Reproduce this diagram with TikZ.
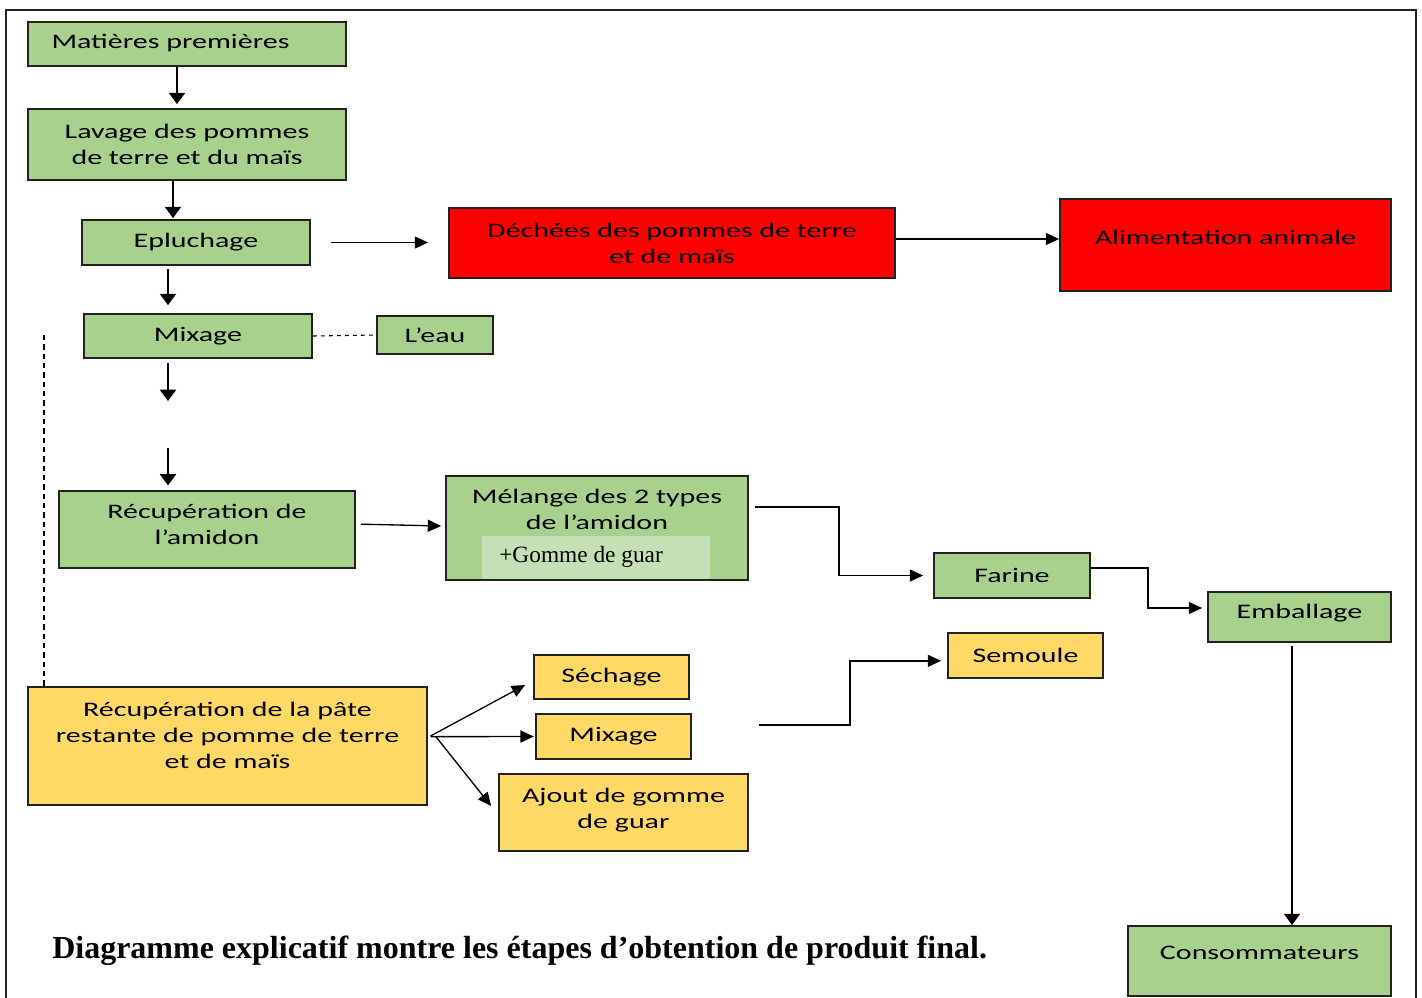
\documentclass[tikz,border=0pt]{standalone}
\usepackage{fontspec}
\setmainfont{Carlito}[FakeStretch=1.45]
\newfontfamily\serifcap{Liberation Serif}
\usetikzlibrary{arrows.meta,calc}
\definecolor{gfill}{HTML}{A9D18E}
\definecolor{yfill}{HTML}{FFD966}
\definecolor{rfill}{HTML}{FF0000}
\definecolor{lfill}{HTML}{C5E0B4}
\definecolor{bord}{HTML}{222222}
\tikzset{
  box/.style={draw=bord, line width=1.3pt, align=center, inner sep=2pt, font=\fontsize{15.5}{19.5}\selectfont},
  gbox/.style={box, fill=gfill},
  ybox/.style={box, fill=yfill},
  rbox/.style={box, fill=rfill},
  arr/.style={-{Triangle[length=10pt,width=9pt]}, line width=1pt, black},
  tarr/.style={-{Triangle[length=8.5pt,width=12pt]}, line width=1.5pt, black},
  dotline/.style={line width=0.9pt, dash pattern=on 4pt off 3pt},
}
\begin{document}
\begin{tikzpicture}[x=0.75pt,y=-0.75pt]
\useasboundingbox (0,0) rectangle (1422,997);
% frame
\draw[line width=1.5pt, bord] (6,1000) -- (6,10) -- (1416,10) -- (1416,1000);

% nodes
\node[gbox, minimum width=318*0.75pt, minimum height=44*0.75pt] (mat) at (187,44) {\raisebox{4pt}{Matières premières}\hspace{1.6em}};
\node[gbox, minimum width=318*0.75pt, minimum height=71*0.75pt] (lav) at (187,144.5) {Lavage des pommes\\de terre et du maïs};
\node[gbox, minimum width=228*0.75pt, minimum height=45*0.75pt] (epl) at (196,242.5) {\raisebox{4pt}{Epluchage}};
\node[gbox, minimum width=228*0.75pt, minimum height=44*0.75pt] (mix) at (198,336) {Mixage};
\node[gbox, minimum width=116*0.75pt, minimum height=38*0.75pt] (eau) at (435,335) {L’eau};
\node[rbox, minimum width=446*0.75pt, minimum height=70*0.75pt] (dech) at (672,243) {Déchées des pommes de terre\\et de maïs};
\node[rbox, minimum width=331*0.75pt, minimum height=92*0.75pt] (alim) at (1225.5,245) {\raisebox{12pt}{Alimentation animale}};
\node[gbox, minimum width=296*0.75pt, minimum height=77*0.75pt, text depth=7.5pt] (ramid) at (207,529.5) {Récupération de\\l’amidon};
\node[gbox, minimum width=302*0.75pt, minimum height=104*0.75pt] (mel) at (597,528) {};
\node[box, draw=none, fill=none, inner sep=0pt] (meltxt) at (597,509.5) {Mélange des 2 types\\de l’amidon};
\node[fill=lfill, minimum width=228*0.75pt, minimum height=43*0.75pt, inner sep=0pt, font=\serifcap\fontsize{17.5}{20}\selectfont] (gum) at (596,557) {\makebox[171pt][l]{\hspace{13pt}+Gomme de guar}};
\node[gbox, minimum width=156*0.75pt, minimum height=45*0.75pt] (far) at (1012,575.5) {Farine};
\node[gbox, minimum width=183*0.75pt, minimum height=50*0.75pt] (emb) at (1299.5,617) {\raisebox{8pt}{Emballage}};
\node[ybox, minimum width=155*0.75pt, minimum height=45*0.75pt] (sem) at (1025.5,655.5) {Semoule};
\node[ybox, minimum width=399*0.75pt, minimum height=118*0.75pt, text depth=16pt] (pate) at (227.5,746) {Récupération de la pâte\\restante de pomme de terre\\et de maïs};
\node[ybox, minimum width=155*0.75pt, minimum height=44*0.75pt] (sech) at (611.5,677) {Séchage};
\node[ybox, minimum width=155*0.75pt, minimum height=45*0.75pt] (mix2) at (613.5,736.5) {Mixage};
\node[ybox, minimum width=249*0.75pt, minimum height=77*0.75pt, text depth=7pt] (ajout) at (623.5,812.5) {Ajout de gomme\\de guar};
\node[gbox, minimum width=263*0.75pt, minimum height=70*0.75pt] (cons) at (1259.5,961) {\raisebox{13pt}{Consommateurs}};

\node[font=\serifcap\bfseries\fontsize{24}{28}\selectfont, anchor=west, inner sep=0pt] (cap) at (52,951) {Diagramme explicatif montre les étapes d’obtention de produit final.};

% free coordinates
\coordinate (m0) at (168,363);
\coordinate (m1) at (168,401);
\coordinate (m2) at (168,448);
\coordinate (s0) at (759,725);
\coordinate (d0) at (44,335);

% connectors
\draw[tarr] (mat.south -| 177,0) -- ([yshift=3pt]lav.north -| 177,0);
\draw[tarr] (lav.south -| 173,0) -- ([yshift=0.75pt]epl.north -| 173,0);
\draw[tarr] ([yshift=-2pt]epl.south -| 168,0) -- ([yshift=6pt]mix.north -| 168,0);
\draw[tarr] (m0) -- (m1);
\draw[tarr] (m2) -- ([yshift=3.5pt]ramid.north -| 168,0);
\draw[arr, shorten <=15pt, shorten >=15pt] (epl.east) -- (epl.east -| dech.west);
\draw[arr] (dech.east |- 0,239) -- (alim.west |- 0,239);
\draw[dashed, line width=0.8pt] (mix.east) -- (eau.west);
\draw[dotline] (d0) -- (d0 |- pate.north);
\draw[arr] ([xshift=3.75pt,yshift=4pt]ramid.east) -- ([xshift=-3pt,yshift=1.5pt]mel.west);
\draw[arr] (mel.east) ++(6,-21) -- ++(84,0) |- ([xshift=-7.5pt]far.west);
\draw[arr] (far.east) ++(0,-7.5) -- ++(57,0) |- ([xshift=-3.75pt,yshift=6.75pt]emb.west);
\draw[arr] ([xshift=2pt,yshift=7.5pt]pate.east) -- ([xshift=-6pt,yshift=-6pt]sech.west);
\draw[arr] ([xshift=2pt,yshift=7pt]pate.east) -- ([xshift=-1pt]mix2.west);
\draw[arr] ([xshift=6pt,yshift=7pt]pate.east) -- ([xshift=-5.25pt,yshift=4.9pt]ajout.west);
\draw[arr] (s0) -- ++(91,0) |- ([xshift=-4.5pt,yshift=-4pt]sem.west);
\draw[tarr, line width=1.3pt] ([xshift=-5.6pt,yshift=-2pt]emb.south) -- ([xshift=-5.6pt]emb.south |- cons.north);
\end{tikzpicture}
\end{document}
